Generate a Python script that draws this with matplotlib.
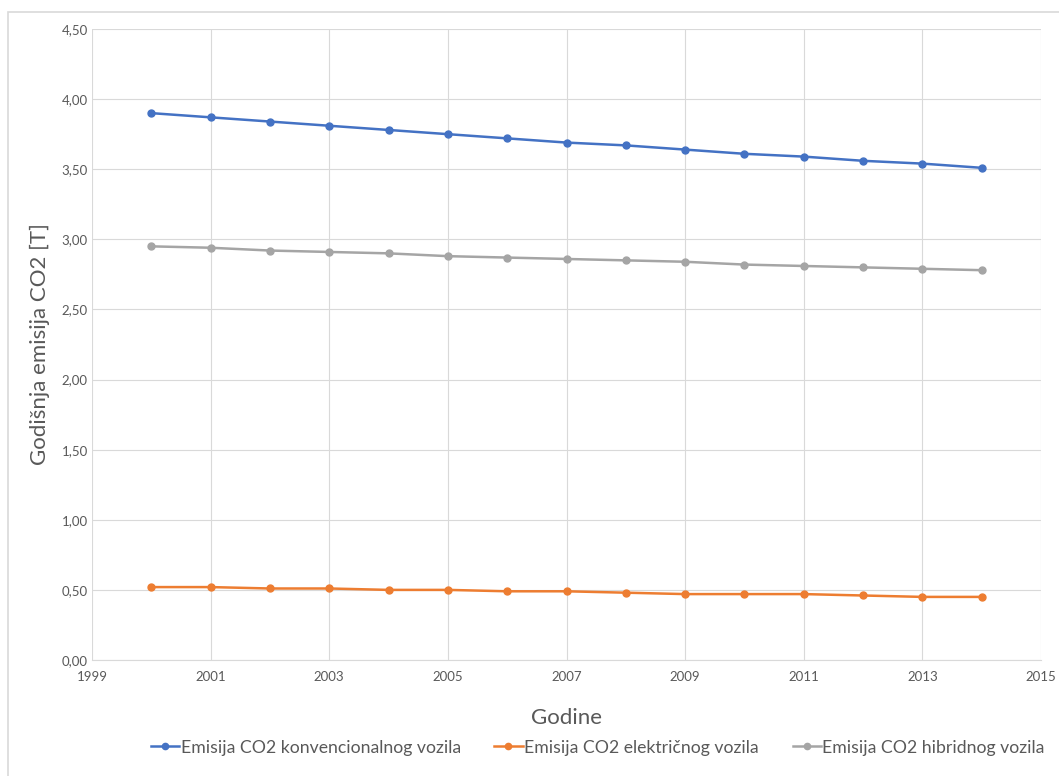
import matplotlib.pyplot as plt
from matplotlib.patches import Rectangle
from matplotlib.ticker import FuncFormatter, MultipleLocator

plt.rcParams['font.family'] = ['Lato', 'DejaVu Sans']

# Data
years = list(range(2000, 2015))
konvencionalno = [3.90, 3.87, 3.84, 3.81, 3.78, 3.75, 3.72, 3.69, 3.67, 3.64, 3.61, 3.59, 3.56, 3.54, 3.51]
elektricno = [0.52, 0.52, 0.51, 0.51, 0.50, 0.50, 0.49, 0.49, 0.48, 0.47, 0.47, 0.47, 0.46, 0.45, 0.45]
hibridno = [2.95, 2.94, 2.92, 2.91, 2.90, 2.88, 2.87, 2.86, 2.85, 2.84, 2.82, 2.81, 2.80, 2.79, 2.78]
x_ticks = list(range(1999, 2016, 2))

labels = ['Emisija CO2 konvencionalnog vozila',
          'Emisija CO2 električnog vozila',
          'Emisija CO2 hibridnog vozila']
colors = ['#4472C4', '#ED7D31', '#A5A5A5']

fig = plt.figure(figsize=(10.59, 7.76), dpi=100)
fig.patches.append(Rectangle((8 / 1059, -0.1), 1.2, 1 - 12 / 776 + 0.1,
                             transform=fig.transFigure, fill=False,
                             edgecolor='#D9D9D9', linewidth=1.2))
ax = fig.add_axes([92 / 1059, 116 / 776, 949 / 1059, 631 / 776])

for vals, lab, col in zip([konvencionalno, elektricno, hibridno], labels, colors):
    ax.plot(years, vals, color=col, linewidth=1.8, marker='o', markersize=5, label=lab)

ax.set_xlim(1999, 2015)
ax.set_ylim(0, 4.5)
ax.set_xticks(x_ticks)
ax.yaxis.set_major_locator(MultipleLocator(0.5))
ax.yaxis.set_major_formatter(FuncFormatter(lambda v, p: f'{v:.2f}'.replace('.', ',')))
ax.grid(True, color='#D9D9D9', linewidth=0.8)
ax.set_axisbelow(True)
for s in ax.spines.values():
    s.set_visible(False)
ax.spines['bottom'].set_visible(True)
ax.spines['bottom'].set_color('#D9D9D9')
ax.tick_params(length=0, labelsize=9.5, colors='#595959')
ax.tick_params(axis='y', pad=3)
ax.tick_params(axis='x', pad=8)

ax.set_xlabel('Godine', fontsize=16, color='#595959', labelpad=18)
ax.set_ylabel('Godišnja emisija CO2 [T]', fontsize=16, color='#595959', labelpad=8)

ax.legend(loc='upper center', bbox_to_anchor=(0.533, -0.101), ncol=3, frameon=False,
          fontsize=12.7, labelcolor='#595959', handlelength=1.6, handletextpad=0.1,
          columnspacing=1.9, markerscale=0.9)

fig.savefig('out.png', dpi=100)
